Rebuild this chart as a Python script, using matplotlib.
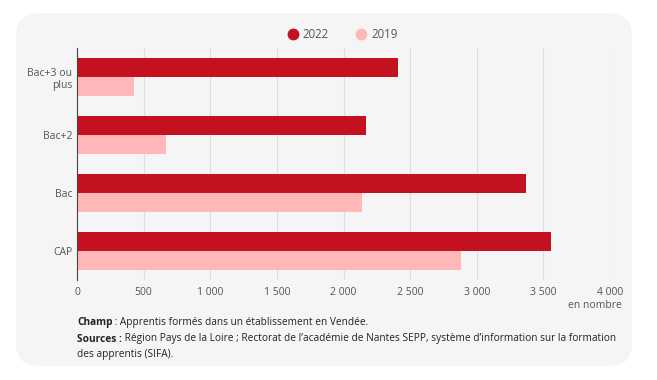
import matplotlib
matplotlib.use("Agg")
import matplotlib.pyplot as plt
from matplotlib.patches import FancyBboxPatch
from matplotlib.lines import Line2D
import matplotlib.ticker as mticker

categories = ["Bac+3 ou\nplus", "Bac+2", "Bac", "CAP"]
series_names = ["2022", "2019"]
values_2022 = [2410, 2170, 3370, 3560]
values_2019 = [425, 665, 2140, 2885]
x_ticks = [0, 500, 1000, 1500, 2000, 2500, 3000, 3500, 4000]
colors = ["#c4111f", "#ffb7b9"]

W, H = 657, 380
plt.rcParams['font.family'] = ['Open Sans', 'DejaVu Sans']
fig = plt.figure(figsize=(W / 100, H / 100), dpi=100)
fig.patch.set_facecolor("white")

# Rounded grey panel
panel = FancyBboxPatch((16 / W, 1 - 366 / H), (632 - 16) / W, (366 - 13) / H,
                       boxstyle="round,pad=0,rounding_size=0.035",
                       transform=fig.transFigure, facecolor="#f5f5f5",
                       edgecolor="none", zorder=0, mutation_aspect=W / H)
fig.add_artist(panel)

ax = fig.add_axes([77 / W, 1 - 280 / H, (610 - 77) / W, (280 - 48) / H])
ax.set_facecolor("none")

ys = list(range(len(categories)))
h = 0.336
ax.barh([y - h / 2 for y in ys], values_2022, height=h, color=colors[0], zorder=3)
ax.barh([y + h / 2 for y in ys], values_2019, height=h, color=colors[1], zorder=3)

ax.set_ylim(len(categories) - 0.5, -0.5)
ax.set_xlim(0, 4000)
ax.set_yticks(ys)
ax.set_yticklabels(categories, fontsize=7.5, color="#555555", linespacing=1.2)
ax.set_xticks(x_ticks)
ax.xaxis.set_major_formatter(mticker.FuncFormatter(
    lambda v, p: f"{int(v):,}".replace(",", " ")))
ax.tick_params(axis="x", labelsize=7.5, labelcolor="#555555", length=0, pad=5)
ax.tick_params(axis="y", length=0, pad=3.5)
ax.grid(axis="x", color="#dddddd", linewidth=0.8, zorder=0)
for s in ["top", "right", "bottom"]:
    ax.spines[s].set_visible(False)
ax.spines["left"].set_color("#444444")
ax.spines["left"].set_linewidth(0.8)
ax.spines["left"].set_zorder(4)

# Legend
ly = 1 - 34 / H
for xc, xt, c, name in [(293, 302, colors[0], series_names[0]), (361, 371, colors[1], series_names[1])]:
    fig.add_artist(Line2D([xc / W], [ly], marker="o", markersize=7.5, color=c,
                          linestyle="none", transform=fig.transFigure))
    fig.text(xt / W, ly, name, fontsize=8.3, color="#555555", va="center", ha="left")

fig.text(622 / W, 1 - 305 / H, "en nombre", fontsize=7.5, color="#555555",
         ha="right", va="center")

# Footer
fs = 7.25
t1 = fig.text(77 / W, 1 - 323 / H, "Champ", fontsize=fs, fontweight="bold",
              color="#222222", va="center", ha="left")
ax.annotate(" : Apprentis formés dans un établissement en Vendée.", xy=(1, 0.5),
            xycoords=t1, va="center", ha="left", fontsize=fs, color="#222222",
            annotation_clip=False)
t2 = fig.text(77 / W, 1 - 339 / H, "Sources :", fontsize=fs, fontweight="bold",
              color="#222222", va="center", ha="left")
ax.annotate(" Région Pays de la Loire ; Rectorat de l’académie de Nantes SEPP, système d’information sur la formation",
            xy=(1, 0.5), xycoords=t2, va="center", ha="left", fontsize=fs,
            color="#222222", annotation_clip=False)
fig.text(77 / W, 1 - 354 / H, "des apprentis (SIFA).", fontsize=fs,
         color="#222222", va="center", ha="left")

fig.savefig("out.png", dpi=100, facecolor="white")
